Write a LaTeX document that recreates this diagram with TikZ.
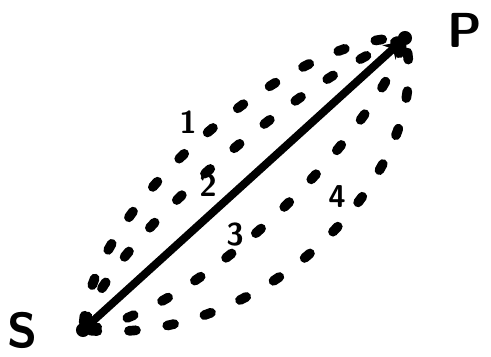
\documentclass[tikz,border=0pt]{standalone}
\usetikzlibrary{arrows.meta, positioning}
\tikzset{
  endpt/.style={circle, fill=black, inner sep=0pt, minimum size=8pt},
  endlab/.style={font=\fontsize{28}{28}\selectfont\sffamily\bfseries, inner sep=0pt},
  routelab/.style={font=\fontsize{18}{18}\selectfont\sffamily\bfseries, inner sep=0pt},
  direct/.style={line width=4.5pt, -{Stealth[length=9pt,width=11pt]}, shorten >=-1pt},
  route/.style={line width=5.5pt, line cap=round, dash pattern=on 4pt off 18pt},
}
\begin{document}
\begin{tikzpicture}[x=0.02cm, y=-0.02cm]
  \useasboundingbox (0,0) rectangle (491,356);

  % --- end points ---
  \node[endpt] (S) at (83,330) {};
  \node[endpt] (P) at (405,38) {};
  \node[endlab, left=0.75cm of S] (Slab) {S};
  \node[endlab, right=0.7cm of P, yshift=0.15cm] (Plab) {P};

  % --- the four dashed routes ---
  \draw[route] (S) .. controls (95,200) and (290,40) .. (P);
  \draw[route] (S) .. controls (110,240) and (300,80) .. (P);
  \draw[route] (S) .. controls (200,310) and (370,140) .. (P);
  \draw[route] (S) .. controls (270,345) and (430,170) .. (P);

  % --- straight path ---
  \draw[direct] (S.center) -- (P);

  % --- route numbers ---
  \node[routelab] (n1) at (188,122) {1};
  \node[routelab] (n2) at (208,185) {2};
  \node[routelab] (n3) at (235,235) {3};
  \node[routelab] (n4) at (337,197) {4};
\end{tikzpicture}
\end{document}
